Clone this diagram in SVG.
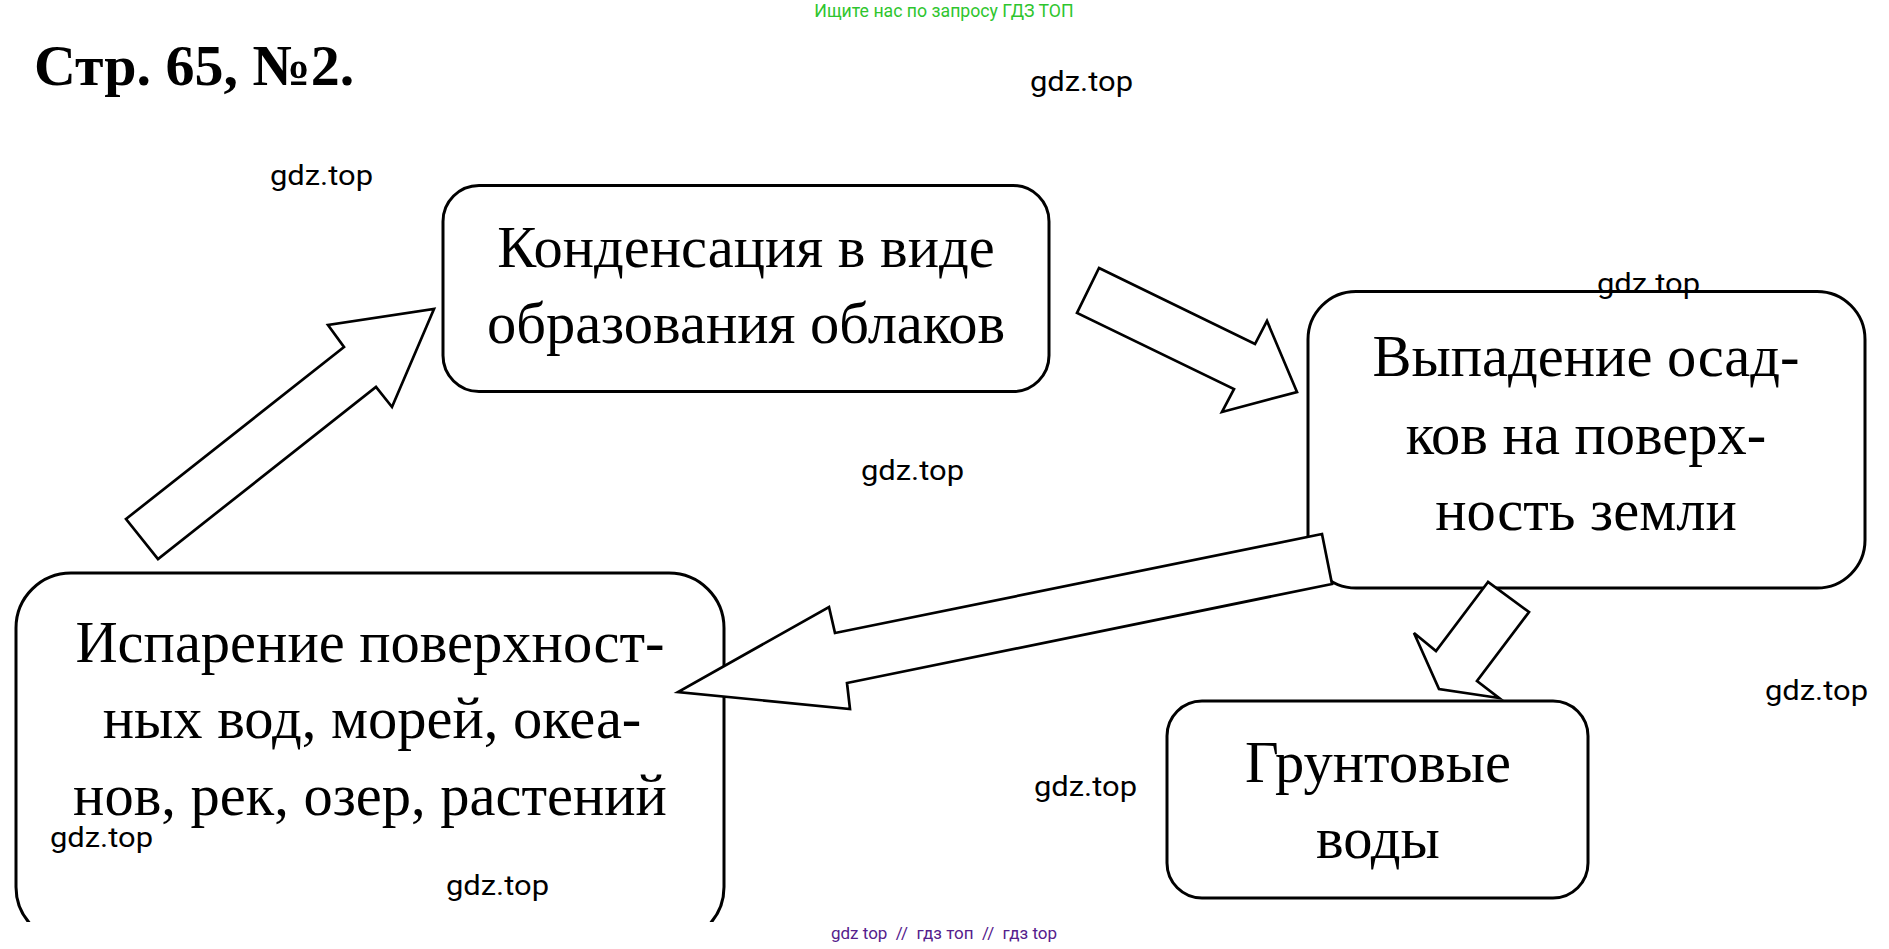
<svg xmlns="http://www.w3.org/2000/svg" width="1889" height="949" viewBox="0 0 1889 949">
<defs>
<style>
.box{fill:#fff;stroke:#000;stroke-width:3}
.arrow{fill:#fff;stroke:#000;stroke-width:2.7;stroke-linejoin:miter}
.lbl{font-family:"Liberation Serif","Times New Roman",serif;font-size:58.5px;fill:#000;text-anchor:middle}
.wm{font-family:Roboto,"Liberation Sans",sans-serif;font-size:28px;fill:#000}
.title{font-family:"Liberation Serif","Times New Roman",serif;font-size:58px;font-weight:bold;fill:#000}
.hdr{font-family:Roboto,"Liberation Sans",sans-serif;font-size:17.7px;fill:#2ec52e;text-anchor:middle}
.ftr{font-family:Roboto,"Liberation Sans",sans-serif;font-size:17px;fill:#55208c;text-anchor:middle;white-space:pre}
</style>
<clipPath id="clipD"><rect x="0" y="0" width="1889" height="922"/></clipPath>
</defs>
<rect x="0" y="0" width="1889" height="949" fill="#fff"/>
<text class="hdr" x="944" y="17">Ищите нас по запросу ГДЗ ТОП</text>
<text class="title" x="34" y="85">Стр. 65, №2.</text>

<g id="node-condensation">
<rect class="box" x="443" y="185.5" width="606" height="206" rx="36" ry="36"/>
<text class="lbl" x="746" y="267">Конденсация в виде</text>
<text class="lbl" x="746" y="343">образования облаков</text>
</g>
<g id="node-precipitation">
<rect class="box" x="1308" y="291.5" width="557" height="296.5" rx="48" ry="48"/>
<text class="lbl" x="1586" y="376">Выпадение осад-</text>
<text class="lbl" x="1586" y="454">ков на поверх-</text>
<text class="lbl" x="1586" y="530">ность земли</text>
</g>
<g id="node-groundwater">
<rect class="box" x="1167" y="701" width="421" height="197" rx="35" ry="35"/>
<text class="lbl" x="1378" y="782">Грунтовые</text>
<text class="lbl" x="1378" y="858">воды</text>
</g>
<g id="node-evaporation">
<rect class="box" x="16" y="573" width="708" height="369" rx="55" ry="55" clip-path="url(#clipD)"/>
<text class="lbl" x="370" y="662">Испарение поверхност-</text>
<text class="lbl" x="372" y="738">ных вод, морей, океа-</text>
<text class="lbl" x="370" y="815">нов, рек, озер, растений</text>
</g>

<g id="connectors">
<polygon class="arrow" points="126,519 344,347 328,325 434,309 392,407 376,387 158,559"/>
<polygon class="arrow" points="1099,268 1255,344 1267,321 1297,392 1222,412 1234,389 1077,313"/>
<polygon class="arrow" points="1322,534 835,633 829,607 678,692 850,709 847,683 1332,584"/>
<polygon class="arrow" points="1488,582 1436,651 1414,633 1439,689 1499,698 1477,681 1529,612"/>
</g>

<g id="watermarks">
<text class="wm" x="1030" y="91" textLength="103" lengthAdjust="spacingAndGlyphs">gdz.top</text>
<text class="wm" x="270" y="185" textLength="103" lengthAdjust="spacingAndGlyphs">gdz.top</text>
<text class="wm" x="1597" y="293" textLength="103" lengthAdjust="spacingAndGlyphs">gdz.top</text>
<text class="wm" x="861" y="480" textLength="103" lengthAdjust="spacingAndGlyphs">gdz.top</text>
<text class="wm" x="1765" y="700" textLength="103" lengthAdjust="spacingAndGlyphs">gdz.top</text>
<text class="wm" x="1034" y="796" textLength="103" lengthAdjust="spacingAndGlyphs">gdz.top</text>
<text class="wm" x="50" y="847" textLength="103" lengthAdjust="spacingAndGlyphs">gdz.top</text>
<text class="wm" x="446" y="895" textLength="103" lengthAdjust="spacingAndGlyphs">gdz.top</text>
</g>
<text class="ftr" x="944" y="939">gdz top  //  гдз топ  //  гдз top</text>
</svg>
